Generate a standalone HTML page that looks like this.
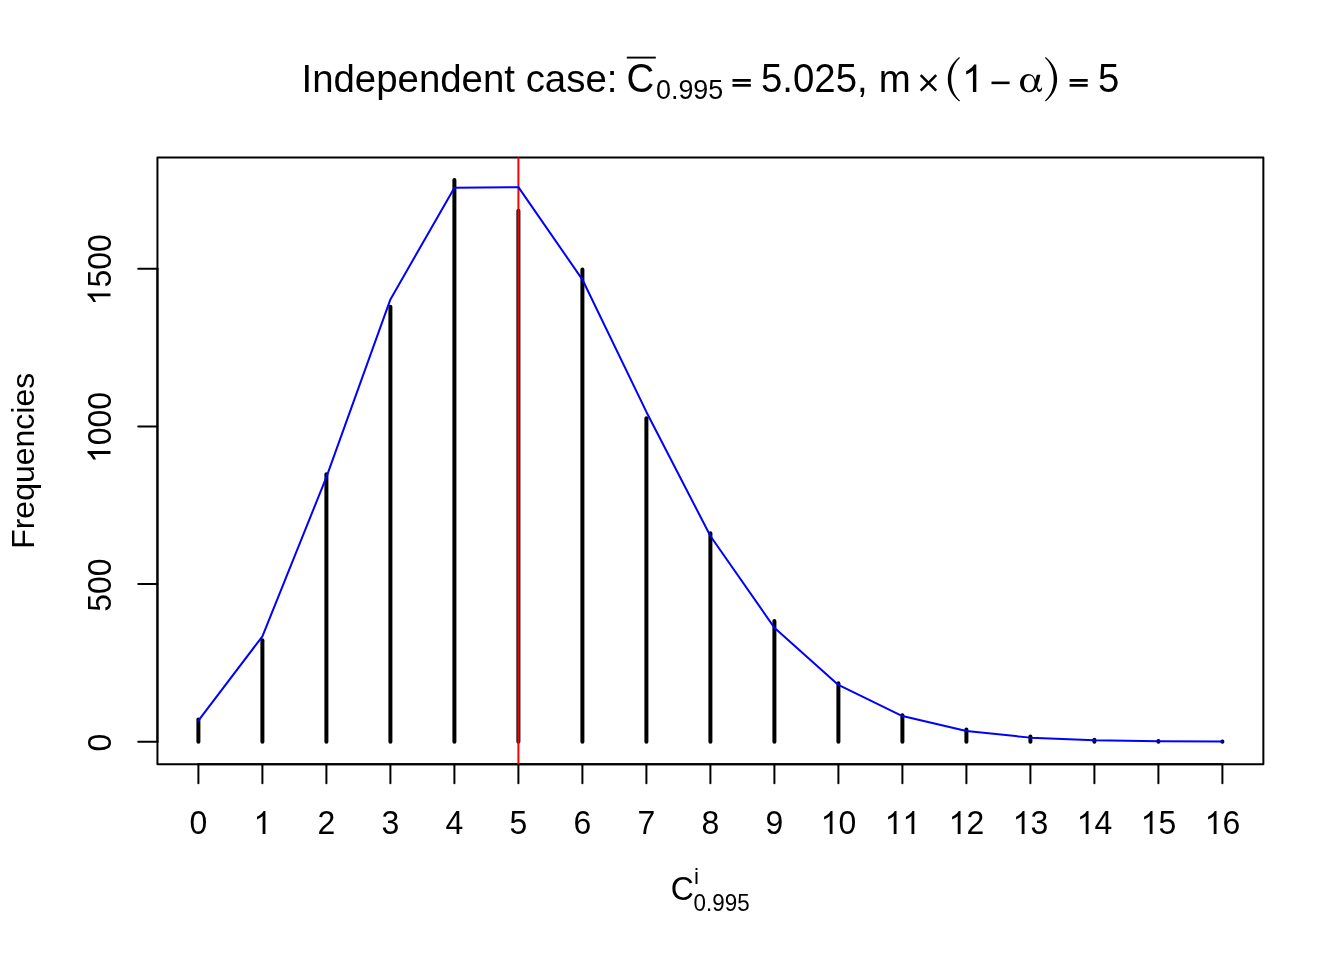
<!DOCTYPE html>
<html><head><meta charset="utf-8"><title>plot</title>
<style>
html,body{margin:0;padding:0;background:#fff;}
svg{display:block;will-change:transform;}
text{font-family:"Liberation Sans",sans-serif;fill:#000;}
</style></head><body>
<svg width="1344" height="960" viewBox="0 0 1344 960">
<rect x="0" y="0" width="1344" height="960" fill="#fff"/>

<g stroke="#000" stroke-width="4" stroke-linecap="round" fill="none">
<line x1="198.40" y1="719.62" x2="198.40" y2="741.69"/>
<line x1="262.40" y1="640.18" x2="262.40" y2="741.69"/>
<line x1="326.40" y1="474.36" x2="326.40" y2="741.69"/>
<line x1="390.40" y1="306.64" x2="390.40" y2="741.69"/>
<line x1="454.40" y1="179.91" x2="454.40" y2="741.69"/>
<line x1="518.40" y1="210.80" x2="518.40" y2="741.69"/>
<line x1="582.40" y1="269.44" x2="582.40" y2="741.69"/>
<line x1="646.40" y1="418.24" x2="646.40" y2="741.69"/>
<line x1="710.40" y1="533.31" x2="710.40" y2="741.69"/>
<line x1="774.40" y1="620.95" x2="774.40" y2="741.69"/>
<line x1="838.40" y1="683.37" x2="838.40" y2="741.69"/>
<line x1="902.40" y1="715.21" x2="902.40" y2="741.69"/>
<line x1="966.40" y1="729.40" x2="966.40" y2="741.69"/>
<line x1="1030.40" y1="736.49" x2="1030.40" y2="741.69"/>
<line x1="1094.40" y1="739.80" x2="1094.40" y2="741.69"/>
<line x1="1158.40" y1="741.06" x2="1158.40" y2="741.69"/>
<line x1="1222.40" y1="741.53" x2="1222.40" y2="741.69"/>
</g>
<rect x="157.44" y="157.44" width="1105.92" height="606.72" fill="none" stroke="#000" stroke-width="2" stroke-linejoin="round"/>
<g stroke="#000" stroke-width="2" fill="none" stroke-linecap="round">
<line x1="198.4" y1="764.16" x2="1222.4" y2="764.16"/>
<line x1="198.40" y1="764.16" x2="198.40" y2="783.36"/>
<line x1="262.40" y1="764.16" x2="262.40" y2="783.36"/>
<line x1="326.40" y1="764.16" x2="326.40" y2="783.36"/>
<line x1="390.40" y1="764.16" x2="390.40" y2="783.36"/>
<line x1="454.40" y1="764.16" x2="454.40" y2="783.36"/>
<line x1="518.40" y1="764.16" x2="518.40" y2="783.36"/>
<line x1="582.40" y1="764.16" x2="582.40" y2="783.36"/>
<line x1="646.40" y1="764.16" x2="646.40" y2="783.36"/>
<line x1="710.40" y1="764.16" x2="710.40" y2="783.36"/>
<line x1="774.40" y1="764.16" x2="774.40" y2="783.36"/>
<line x1="838.40" y1="764.16" x2="838.40" y2="783.36"/>
<line x1="902.40" y1="764.16" x2="902.40" y2="783.36"/>
<line x1="966.40" y1="764.16" x2="966.40" y2="783.36"/>
<line x1="1030.40" y1="764.16" x2="1030.40" y2="783.36"/>
<line x1="1094.40" y1="764.16" x2="1094.40" y2="783.36"/>
<line x1="1158.40" y1="764.16" x2="1158.40" y2="783.36"/>
<line x1="1222.40" y1="764.16" x2="1222.40" y2="783.36"/>
<line x1="157.44" y1="741.69" x2="157.44" y2="268.81"/>
<line x1="138.24" y1="741.69" x2="157.44" y2="741.69"/>
<line x1="138.24" y1="584.06" x2="157.44" y2="584.06"/>
<line x1="138.24" y1="426.44" x2="157.44" y2="426.44"/>
<line x1="138.24" y1="268.81" x2="157.44" y2="268.81"/>
</g>
<g>
<text transform="matrix(1 0 0 1.0405 0 -33.739)" x="189.50" y="834.00" font-size="32">0</text>
<path transform="translate(253.50,834.00) scale(0.015625,-0.015625)" d="M763,0H583V1147Q518,1085 412.5,1023T223,930V1104Q374,1175 487,1276T647,1472H763Z"/>
<text transform="matrix(1 0 0 1.0405 0 -33.739)" x="317.50" y="834.00" font-size="32">2</text>
<text transform="matrix(1 0 0 1.0405 0 -33.739)" x="381.50" y="834.00" font-size="32">3</text>
<text transform="matrix(1 0 0 1.0405 0 -33.739)" x="445.50" y="834.00" font-size="32">4</text>
<text transform="matrix(1 0 0 1.0405 0 -33.739)" x="509.50" y="834.00" font-size="32">5</text>
<text transform="matrix(1 0 0 1.0405 0 -33.739)" x="573.50" y="834.00" font-size="32">6</text>
<text transform="matrix(1 0 0 1.0405 0 -33.739)" x="637.50" y="834.00" font-size="32">7</text>
<text transform="matrix(1 0 0 1.0405 0 -33.739)" x="701.50" y="834.00" font-size="32">8</text>
<text transform="matrix(1 0 0 1.0405 0 -33.739)" x="765.50" y="834.00" font-size="32">9</text>
<path transform="translate(820.60,834.00) scale(0.015625,-0.015625)" d="M763,0H583V1147Q518,1085 412.5,1023T223,930V1104Q374,1175 487,1276T647,1472H763Z"/><text transform="matrix(1 0 0 1.0405 0 -33.739)" x="838.40" y="834.00" font-size="32">0</text>
<path transform="translate(884.60,834.00) scale(0.015625,-0.015625)" d="M763,0H583V1147Q518,1085 412.5,1023T223,930V1104Q374,1175 487,1276T647,1472H763Z"/><path transform="translate(902.40,834.00) scale(0.015625,-0.015625)" d="M763,0H583V1147Q518,1085 412.5,1023T223,930V1104Q374,1175 487,1276T647,1472H763Z"/>
<path transform="translate(948.60,834.00) scale(0.015625,-0.015625)" d="M763,0H583V1147Q518,1085 412.5,1023T223,930V1104Q374,1175 487,1276T647,1472H763Z"/><text transform="matrix(1 0 0 1.0405 0 -33.739)" x="966.40" y="834.00" font-size="32">2</text>
<path transform="translate(1012.60,834.00) scale(0.015625,-0.015625)" d="M763,0H583V1147Q518,1085 412.5,1023T223,930V1104Q374,1175 487,1276T647,1472H763Z"/><text transform="matrix(1 0 0 1.0405 0 -33.739)" x="1030.40" y="834.00" font-size="32">3</text>
<path transform="translate(1076.60,834.00) scale(0.015625,-0.015625)" d="M763,0H583V1147Q518,1085 412.5,1023T223,930V1104Q374,1175 487,1276T647,1472H763Z"/><text transform="matrix(1 0 0 1.0405 0 -33.739)" x="1094.40" y="834.00" font-size="32">4</text>
<path transform="translate(1140.60,834.00) scale(0.015625,-0.015625)" d="M763,0H583V1147Q518,1085 412.5,1023T223,930V1104Q374,1175 487,1276T647,1472H763Z"/><text transform="matrix(1 0 0 1.0405 0 -33.739)" x="1158.40" y="834.00" font-size="32">5</text>
<path transform="translate(1204.60,834.00) scale(0.015625,-0.015625)" d="M763,0H583V1147Q518,1085 412.5,1023T223,930V1104Q374,1175 487,1276T647,1472H763Z"/><text transform="matrix(1 0 0 1.0405 0 -33.739)" x="1222.40" y="834.00" font-size="32">6</text>
</g>
<g transform="translate(110.5,742.69) rotate(-90)"><text transform="matrix(1 0 0 1.0405 0 -0.000)" x="-8.90" y="0.00" font-size="32">0</text></g>
<g transform="translate(110.5,585.06) rotate(-90)"><text transform="matrix(1 0 0 1.0405 0 -0.000)" x="-26.70" y="0.00" font-size="32">500</text></g>
<g transform="translate(110.5,427.44) rotate(-90)"><path transform="translate(-35.59,0.00) scale(0.015625,-0.015625)" d="M763,0H583V1147Q518,1085 412.5,1023T223,930V1104Q374,1175 487,1276T647,1472H763Z"/><text transform="matrix(1 0 0 1.0405 0 -0.000)" x="-17.80" y="0.00" font-size="32">000</text></g>
<g transform="translate(110.5,269.81) rotate(-90)"><path transform="translate(-35.59,0.00) scale(0.015625,-0.015625)" d="M763,0H583V1147Q518,1085 412.5,1023T223,930V1104Q374,1175 487,1276T647,1472H763Z"/><text transform="matrix(1 0 0 1.0405 0 -0.000)" x="-17.80" y="0.00" font-size="32">500</text></g>
<text transform="translate(34.1,460.8) rotate(-90)" font-size="32" text-anchor="middle">Frequencies</text>
<line x1="518.40" y1="157.44" x2="518.40" y2="764.16" stroke="#f00" stroke-width="2"/>
<polyline points="198.40,720.71 262.40,636.28 326.40,477.10 390.40,299.38 454.40,187.69 518.40,187.14 582.40,279.56 646.40,411.93 710.40,536.00 774.40,627.76 838.40,684.96 902.40,716.03 966.40,731.06 1030.40,737.63 1094.40,740.25 1158.40,741.22 1222.40,741.54" fill="none" stroke="#00f" stroke-width="2" stroke-linejoin="round" stroke-linecap="round"/>
<g font-size="38.4">
<text x="301.5" y="92">Independent case:</text>
<text transform="matrix(1 0 0 1.0405 0 -3.722)" x="626.50" y="92.00" font-size="38.4">C</text>
<line x1="626.8" y1="57.6" x2="655.8" y2="57.6" stroke="#000" stroke-width="1.9"/>
<text transform="matrix(1 0 0 1.0405 0 -3.989)" x="656.00" y="98.60" font-size="26.88">0.995</text>
<path d="M732.5,79.1h18.3v2.7h-18.3zM732.5,84.1h18.3v2.7h-18.3z"/>
<text transform="matrix(1 0 0 1.0405 0 -3.722)" x="761.00" y="92.00" font-size="38.4">5.025,</text>
<text x="878.8" y="92">m</text>
<path d="M920.7,75.2L936.2,90.7M936.2,75.2L920.7,90.7" fill="none" stroke="#000" stroke-width="2.6"/>
<path d="M959.2,56.9C950.5,64 947.8,72 947.8,79.2C947.8,86.4 950.5,94.4 959.2,101.5L959.9,100.4C953.5,94.5 951.2,87 951.2,79.2C951.2,71.4 953.5,63.9 959.9,58Z"/>
<path transform="translate(962.00,92.00) scale(0.018750,-0.018750)" d="M763,0H583V1147Q518,1085 412.5,1023T223,930V1104Q374,1175 487,1276T647,1472H763Z"/>
<path d="M991.5,81.55h18.1v2.6h-18.1z"/>
<path transform="translate(1010,65) scale(0.037202)" fill-rule="evenodd" d="M722,265L815,265C800,360 770,480 735,560C745,620 765,660 795,660C820,660 835,640 845,608L864,614C862,680 835,725 790,725C745,725 722,680 712,605C670,690 600,735 515,735C370,735 270,630 270,490C270,350 370,240 500,240C590,240 650,300 683,400ZM518,280C430,280 375,370 375,490C375,610 430,695 515,695C600,695 660,600 660,480C660,370 600,280 518,280Z"/>
<path transform="translate(2004.9,0) scale(-1,1)" d="M959.2,56.9C950.5,64 947.8,72 947.8,79.2C947.8,86.4 950.5,94.4 959.2,101.5L959.9,100.4C953.5,94.5 951.2,87 951.2,79.2C951.2,71.4 953.5,63.9 959.9,58Z"/>
<path d="M1069.6,79.1h18.1v2.7h-18.1zM1069.6,84.1h18.1v2.7h-18.1z"/>
<text transform="matrix(1 0 0 1.0405 0 -3.722)" x="1098.00" y="92.00" font-size="38.4">5</text>
</g>
<g>
<text transform="matrix(1 0 0 1.0405 0 -36.409)" x="670.70" y="900.00" font-size="32">C</text>
<text x="694.1" y="883.5" font-size="22.4">i</text>
<text transform="matrix(1 0 0 1.0405 0 -36.834)" x="693.60" y="910.50" font-size="22.4">0.995</text>
</g>
</svg></body></html>
